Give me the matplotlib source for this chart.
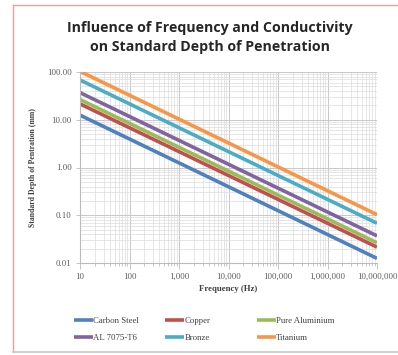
import matplotlib
matplotlib.use("Agg")
import matplotlib.pyplot as plt
from matplotlib.ticker import FixedLocator, LogLocator, NullFormatter
from matplotlib.lines import Line2D

freqs = [10, 100, 1000, 10000, 100000, 1000000, 10000000]
carbon_steel = [12.5, 3.95, 1.25, 0.395, 0.125, 0.0395, 0.0125]
copper = [21.5, 6.8, 2.15, 0.68, 0.215, 0.068, 0.0215]
pure_aluminium = [26.5, 8.4, 2.65, 0.84, 0.265, 0.084, 0.0265]
al7075 = [37.0, 11.7, 3.7, 1.17, 0.37, 0.117, 0.037]
bronze = [68.0, 21.5, 6.8, 2.15, 0.68, 0.215, 0.068]
titanium = [103.0, 32.6, 10.3, 3.26, 1.03, 0.326, 0.103]

series_names = ["Carbon Steel", "Copper", "Pure Aluminium", "AL 7075-T6", "Bronze", "Titanium"]
series_values = [carbon_steel, copper, pure_aluminium, al7075, bronze, titanium]
colors = ["#4F81BD", "#C0504D", "#9BBB59", "#8064A2", "#4BACC6", "#F79646"]

x_tick_labels = ["10", "100", "1,000", "10,000", "100,000", "1,000,000", "10,000,000"]
y_ticks = [0.01, 0.1, 1, 10, 100]
y_tick_labels = ["0.01", "0.10", "1.00", "10.00", "100.00"]

W, H = 398, 355
fig = plt.figure(figsize=(W / 100, H / 100), dpi=100)
fig.patch.set_facecolor("white")

# outer frame (pink top/left, grey bottom)
fig.add_artist(Line2D([13 / W, 13 / W], [1 - 352 / H, 1 - 5 / H], transform=fig.transFigure,
                      color="#E8A0A0", linewidth=1.0))
fig.add_artist(Line2D([13 / W, 1.0], [1 - 5 / H, 1 - 5 / H], transform=fig.transFigure,
                      color="#E8A0A0", linewidth=1.0))
fig.add_artist(Line2D([13 / W, 1.0], [1 - 352 / H, 1 - 352 / H], transform=fig.transFigure,
                      color="#C8C8C8", linewidth=1.2))

ax = fig.add_axes([80 / W, 1 - 263 / H, (377 - 80) / W, (263 - 72) / H])
for name, vals, c in zip(series_names, series_values, colors):
    ax.plot(freqs, vals, color=c, linewidth=2.6, label=name, solid_capstyle="butt")

ax.set_xscale("log")
ax.set_yscale("log")
ax.set_xlim(10, 1e7)
ax.set_ylim(0.01, 100)

ax.xaxis.set_major_locator(FixedLocator(freqs))
ax.set_xticklabels(x_tick_labels)
ax.xaxis.set_minor_locator(LogLocator(base=10, subs=range(2, 10), numticks=100))
ax.xaxis.set_minor_formatter(NullFormatter())
ax.yaxis.set_major_locator(FixedLocator(y_ticks))
ax.set_yticklabels(y_tick_labels)
ax.yaxis.set_minor_locator(LogLocator(base=10, subs=range(2, 10), numticks=100))
ax.yaxis.set_minor_formatter(NullFormatter())

ax.grid(True, which="major", color="#C8C8C8", linewidth=0.7)
ax.grid(True, which="minor", color="#DCDCDC", linewidth=0.5)
ax.set_axisbelow(True)
for s in ["top", "right"]:
    ax.spines[s].set_visible(False)
ax.spines["left"].set_color("#BBBBBB")
ax.spines["bottom"].set_color("#BBBBBB")
ax.tick_params(which="both", colors="#BBBBBB", width=0.6, direction="out")
ax.tick_params(axis="y", which="minor", length=0)
ax.tick_params(axis="x", which="major", length=4)
ax.tick_params(axis="x", which="minor", length=2)
ax.tick_params(axis="y", which="major", length=3)

serif = "Liberation Serif"
for lab in ax.get_xticklabels() + ax.get_yticklabels():
    lab.set_fontfamily(serif)
    lab.set_fontsize(6.3)
    lab.set_color("#595959")
ax.tick_params(axis="x", pad=3)
ax.tick_params(axis="y", pad=3)

ax.set_xlabel("Frequency (Hz)", fontfamily=serif, fontsize=6.3, fontweight="bold",
              color="#404040", labelpad=3)
ax.set_ylabel("Standard Depth of Pentration (mm)", fontfamily=serif, fontsize=5.6,
              fontweight="bold", color="#404040", labelpad=7)

fig.text(210 / W, 1 - 28 / H, "Influence of Frequency and Conductivity",
         ha="center", va="center", fontsize=10.2, fontweight="bold",
         fontfamily="Open Sans", color="#262626")
fig.text(210 / W, 1 - 47 / H, "on Standard Depth of Penetration",
         ha="center", va="center", fontsize=10.2, fontweight="bold",
         fontfamily="Open Sans", color="#262626")

handles, labels = ax.get_legend_handles_labels()
col_x = [74, 165, 257]
for ci, x0 in enumerate(col_x):
    idx = [ci, ci + 3]
    leg = fig.legend([handles[i] for i in idx], [labels[i] for i in idx],
                     ncol=1, loc="center left", bbox_to_anchor=(x0 / W, 1 - 329.5 / H),
                     frameon=False, handlelength=2.2, handletextpad=0.0,
                     labelspacing=0.95, borderpad=0.0, borderaxespad=0.0,
                     prop={"family": serif, "size": 6.3})
    for t in leg.get_texts():
        t.set_color("#404040")

fig.savefig("out.png", dpi=100, facecolor="white")
